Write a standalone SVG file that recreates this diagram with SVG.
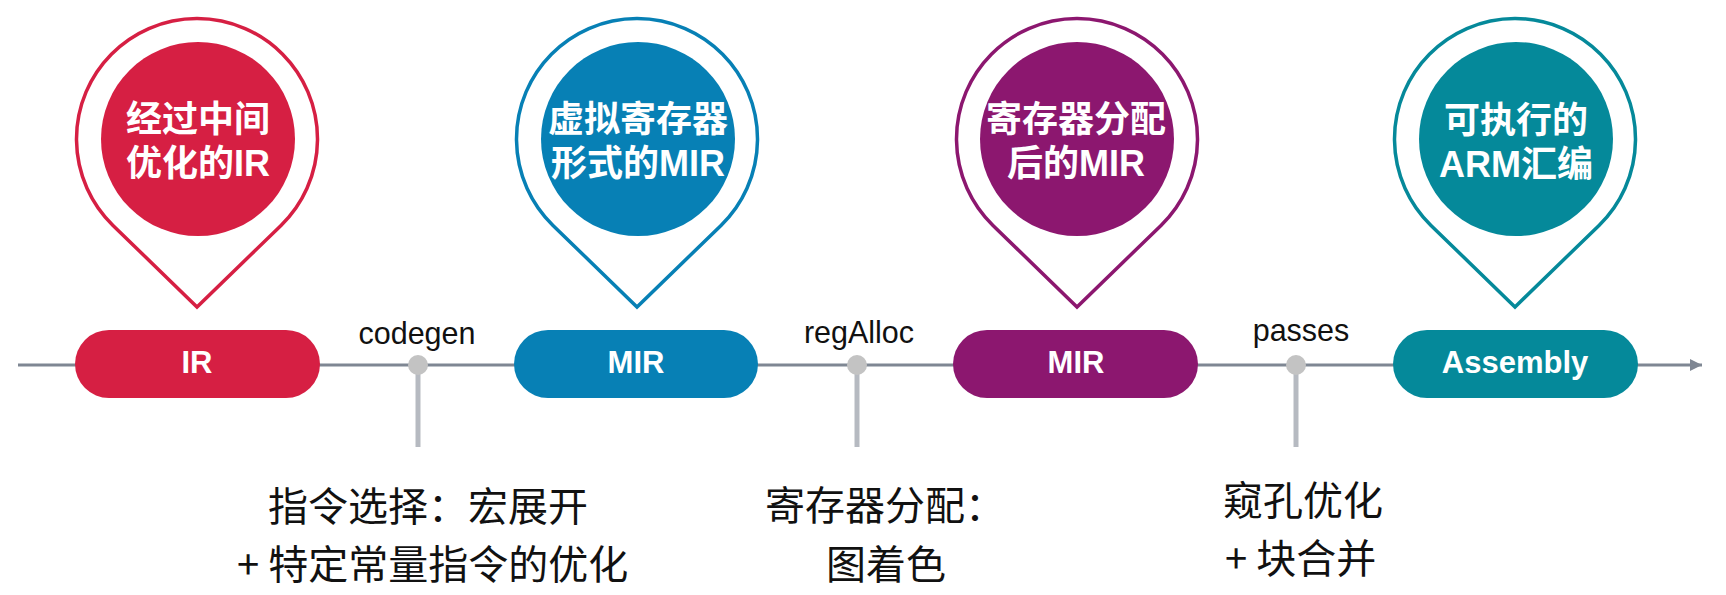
<svg xmlns="http://www.w3.org/2000/svg" width="1726" height="595" viewBox="0 0 1726 595">
<style>
.pin{fill:#ffffff;stroke-width:3.5;stroke-linejoin:miter}
.pt{font-family:"Liberation Sans","Noto Sans CJK SC",sans-serif;font-weight:bold;font-size:36px;fill:#ffffff;text-anchor:middle}
.pl{font-family:"Liberation Sans","Noto Sans CJK SC",sans-serif;font-weight:bold;font-size:31px;fill:#ffffff;text-anchor:middle}
.lb{font-family:"Liberation Sans",Arial,sans-serif;font-size:30.5px;fill:#111111;text-anchor:middle}
.ds{font-family:"Noto Sans CJK SC","Liberation Sans",sans-serif;font-size:40px;fill:#111111}
.axis{stroke:#7f8793;stroke-width:3;fill:none}
.stem{stroke:#b6bac1;stroke-width:5;fill:none}
.dot{fill:#c3c3c3}
.red{fill:#d61f43}.redS{stroke:#d61f43}
.blue{fill:#0780b5}.blueS{stroke:#0780b5}
.pur{fill:#8c176f}.purS{stroke:#8c176f}
.teal{fill:#05899a}.tealS{stroke:#05899a}
</style>
<defs>
<marker id="arr" markerUnits="userSpaceOnUse" markerWidth="14" markerHeight="14" refX="12" refY="6" orient="auto">
<path d="M0,0 L12,6 L0,12 Z" fill="#7f8793"/>
</marker>
</defs>
<g id="connectors">
<line class="axis" x1="18" y1="365" x2="1702" y2="365" marker-end="url(#arr)"/>
<line class="stem" x1="418" y1="365" x2="418" y2="447"/>
<line class="stem" x1="857" y1="365" x2="857" y2="447"/>
<line class="stem" x1="1296" y1="365" x2="1296" y2="447"/>
<circle class="dot" cx="418" cy="365" r="10"/>
<circle class="dot" cx="857" cy="365" r="10"/>
<circle class="dot" cx="1296" cy="365" r="10"/>
</g>
<g id="pin-ir">
<path class="pin redS" d="M113,225.4 A120.5,120.5 0 1 1 281,225.4 L197,307 Z"/>
<circle class="red" cx="198" cy="139" r="97"/>
<text class="pt" x="198" y="132">经过中间</text>
<text class="pt" x="198" y="176">优化的IR</text>
</g>
<g id="pin-mir1">
<path class="pin blueS" d="M553,225.4 A120.5,120.5 0 1 1 721,225.4 L637,307 Z"/>
<circle class="blue" cx="638" cy="139" r="97"/>
<text class="pt" x="638" y="132">虚拟寄存器</text>
<text class="pt" x="638" y="176">形式的MIR</text>
</g>
<g id="pin-mir2">
<path class="pin purS" d="M993,225.4 A120.5,120.5 0 1 1 1161,225.4 L1077,307 Z"/>
<circle class="pur" cx="1077" cy="139" r="97"/>
<text class="pt" x="1076" y="132">寄存器分配</text>
<text class="pt" x="1076" y="176">后的MIR</text>
</g>
<g id="pin-asm">
<path class="pin tealS" d="M1431,225.4 A120.5,120.5 0 1 1 1599,225.4 L1515,307 Z"/>
<circle class="teal" cx="1516" cy="139" r="97"/>
<text class="pt" x="1516" y="133">可执行的</text>
<text class="pt" x="1516" y="177">ARM汇编</text>
</g>
<g id="node-ir">
<rect class="red" x="75" y="330" width="245" height="68" rx="34"/>
<text class="pl" x="197" y="373">IR</text>
</g>
<g id="node-mir1">
<rect class="blue" x="514" y="330" width="244" height="68" rx="34"/>
<text class="pl" x="636" y="373">MIR</text>
</g>
<g id="node-mir2">
<rect class="pur" x="953" y="330" width="245" height="68" rx="34"/>
<text class="pl" x="1076" y="373">MIR</text>
</g>
<g id="node-asm">
<rect class="teal" x="1393" y="330" width="245" height="68" rx="34"/>
<text class="pl" x="1515" y="373">Assembly</text>
</g>
<g id="labels">
<text class="lb" x="417" y="344">codegen</text>
<text class="lb" x="859" y="343">regAlloc</text>
<text class="lb" x="1301" y="341">passes</text>
</g>
<g id="desc-codegen">
<text class="ds" x="268" y="521">指令选择：宏展开</text>
<text class="ds" x="237" y="579">+ 特定常量指令的优化</text>
</g>
<g id="desc-regalloc">
<text class="ds" x="765" y="520">寄存器分配：</text>
<text class="ds" x="826" y="579">图着色</text>
</g>
<g id="desc-passes">
<text class="ds" x="1223" y="515">窥孔优化</text>
<text class="ds" x="1225" y="573">+ 块合并</text>
</g>
</svg>
